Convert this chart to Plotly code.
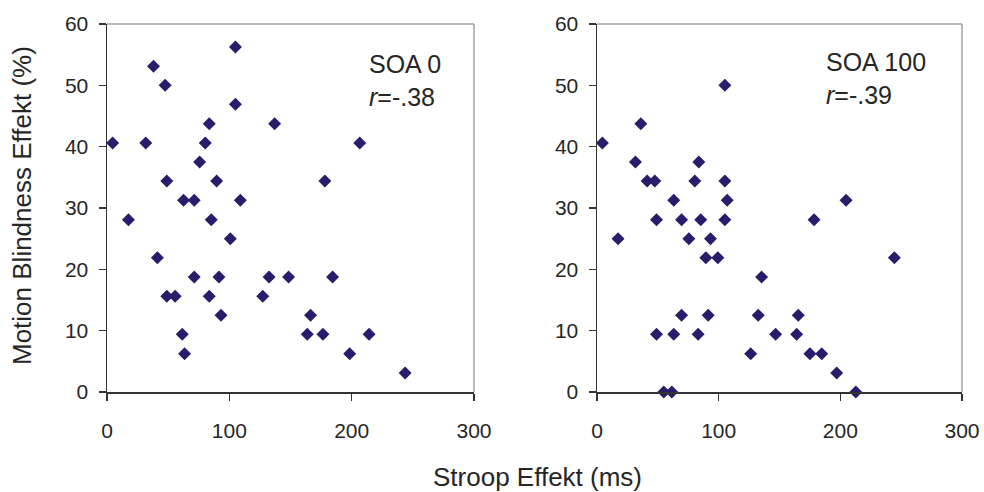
import plotly.graph_objects as go

# SOA 0 panel data (Stroop Effekt ms, Motion Blindness Effekt %)
soa0_x = [105, 38, 47.5, 105, 83.6, 137, 4.6, 31.7, 80.3, 206.6, 75.7, 48.9, 89.6, 178.1,
          62.6, 71.3, 109, 17.5, 85.2, 100.8, 41.2, 71.3, 91.5, 132.5, 148.4, 184.4,
          48.9, 55.7, 83.6, 127.3, 93.2, 166.4, 61.5, 163.7, 176.5, 214.2, 63.4, 198.4, 243.7]
soa0_y = [56.25, 53.1, 50, 46.9, 43.75, 43.75, 40.6, 40.6, 40.6, 40.6, 37.5, 34.4, 34.4, 34.4,
          31.25, 31.25, 31.25, 28.1, 28.1, 25, 21.9, 18.75, 18.75, 18.75, 18.75, 18.75,
          15.6, 15.6, 15.6, 15.6, 12.5, 12.5, 9.4, 9.4, 9.4, 9.4, 6.25, 6.25, 3.1]

# SOA 100 panel data
soa100_x = [105.1, 36, 4.4, 31.6, 83.7, 41.2, 47.5, 80.4, 105.1, 63.1, 107, 204.7,
            48.9, 69.5, 85.3, 105.1, 178.4, 17.3, 75.5, 93.3, 89.5, 99.3, 244.4,
            135.3, 69.5, 91.4, 132.5, 165.4, 48.9, 63.1, 83.1, 146.8, 164.1,
            126.3, 175, 184.7, 197, 54.9, 61.5, 212.7]
soa100_y = [50, 43.75, 40.6, 37.5, 37.5, 34.4, 34.4, 34.4, 34.4, 31.25, 31.25, 31.25,
            28.1, 28.1, 28.1, 28.1, 28.1, 25, 25, 25, 21.9, 21.9, 21.9,
            18.75, 12.5, 12.5, 12.5, 12.5, 9.4, 9.4, 9.4, 9.4, 9.4,
            6.25, 6.25, 6.25, 3.1, 0, 0, 0]

x_ticks = [0, 100, 200, 300]
y_ticks = [0, 10, 20, 30, 40, 50, 60]

W, H = 984, 492
FONT = "Liberation Sans, Arial, sans-serif"
TXT = "#262626"
MARK = "#2b1b6b"


def fx(px):
    return px / W


def fy(py):
    return 1 - py / H


fig = go.Figure()
marker = dict(symbol="diamond", size=10, color=MARK, line=dict(width=0))
fig.add_trace(go.Scatter(x=soa0_x, y=soa0_y, mode="markers", marker=marker,
                         xaxis="x", yaxis="y", cliponaxis=False, showlegend=False))
fig.add_trace(go.Scatter(x=soa100_x, y=soa100_y, mode="markers", marker=marker,
                         xaxis="x2", yaxis="y2", cliponaxis=False, showlegend=False))

ydom = [fy(392), fy(24)]
xdom1 = [fx(107), fx(474)]
xdom2 = [fx(597), fx(962)]


def xax(dom, anchor):
    return dict(domain=dom, anchor=anchor, range=[0, 300], tickvals=x_ticks,
                showgrid=False, zeroline=False, showline=True, linecolor="#333",
                linewidth=1.5, ticks="outside", ticklen=7, tickcolor="#333", tickwidth=1.5,
                tickfont=dict(family=FONT, size=21, color=TXT), ticklabelstandoff=12,
                automargin=False, fixedrange=True)


def yax(anchor):
    return dict(domain=ydom, anchor=anchor, range=[0, 60], tickvals=y_ticks,
                showgrid=False, zeroline=False, showline=True, linecolor="#333",
                linewidth=1.5, ticks="outside", ticklen=7, tickcolor="#333", tickwidth=1.5,
                tickfont=dict(family=FONT, size=21, color=TXT), ticklabelstandoff=6,
                automargin=False, fixedrange=True)


shapes = []
for xr, yr in (("x domain", "y domain"), ("x2 domain", "y2 domain")):
    shapes.append(dict(type="line", xref=xr, yref=yr, x0=0, x1=1, y0=1, y1=1,
                       line=dict(color="#a0a0a0", width=1.5), layer="below"))
    shapes.append(dict(type="line", xref=xr, yref=yr, x0=1, x1=1, y0=0, y1=1,
                       line=dict(color="#a0a0a0", width=1.5), layer="below"))


def ann(text, px, py, size=25, xanchor="left", angle=0):
    return dict(text=text, x=fx(px), y=fy(py), xref="paper", yref="paper",
                xanchor=xanchor, yanchor="middle", showarrow=False, textangle=angle,
                font=dict(family=FONT, size=size, color=TXT))


annotations = [
    ann("SOA 0", 367, 64),
    ann("<i>r</i>=-.38", 367, 97),
    ann("SOA 100", 824, 62),
    ann("<i>r</i>=-.39", 824, 95),
    ann("Stroop Effekt (ms)", 537, 477, size=26, xanchor="center"),
    ann("Motion Blindness Effekt (%)", 22, 206, size=26, xanchor="center", angle=-90),
]

fig.update_layout(
    width=W, height=H, margin=dict(l=0, r=0, t=0, b=0, autoexpand=False),
    paper_bgcolor="white", plot_bgcolor="white",
    xaxis=xax(xdom1, "y"), yaxis=yax("x"),
    xaxis2=xax(xdom2, "y2"), yaxis2=yax("x2"),
    shapes=shapes, annotations=annotations, showlegend=False,
    hovermode=False,
)

fig.write_html(
    "out.html",
    config={"displayModeBar": False, "staticPlot": True},
    post_script="document.documentElement.style.overflow='hidden';"
                "document.body.style.margin='0px';document.body.style.overflow='hidden';",
)
